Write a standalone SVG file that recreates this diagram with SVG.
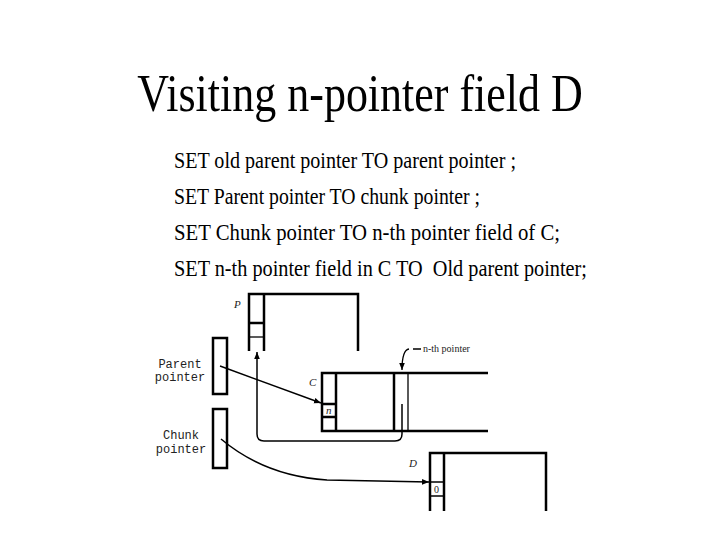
<svg xmlns="http://www.w3.org/2000/svg" width="720" height="540" viewBox="0 0 720 540">
<defs>
<style>
.title{font-family:"Liberation Serif",serif;font-size:44px;fill:#000}
.stmt{font-family:"Liberation Serif",serif;font-size:20.3px;fill:#000;white-space:pre}
.lbl{font-family:"Liberation Mono",monospace;font-size:12px;fill:#222}
.sm{font-family:"Liberation Serif",serif;font-size:10px;fill:#222}
.it{font-family:"Liberation Serif",serif;font-style:italic;font-size:11px;fill:#222}
.thick{fill:none;stroke:#000;stroke-width:2.5}
.thin{fill:none;stroke:#000;stroke-width:1.3}
.conn{fill:none;stroke:#000;stroke-width:1.5}
</style>
<marker id="ah" viewBox="0 0 10 10" refX="10" refY="5" markerWidth="7" markerHeight="7" orient="auto" markerUnits="userSpaceOnUse">
<path d="M0,1 L10,5 L0,9 Z" fill="#000"/>
</marker>
</defs>
<rect width="720" height="540" fill="#fff"/>
<text class="title" transform="translate(360,111) scale(1,1.22)" x="0" y="0" text-anchor="middle">Visiting n-pointer field D</text>
<g id="statements">
<text class="stmt" transform="translate(174,168) scale(1,1.15)" textLength="342" lengthAdjust="spacingAndGlyphs">SET old parent pointer TO parent pointer ;</text>
<text class="stmt" transform="translate(174,204) scale(1,1.15)" textLength="306" lengthAdjust="spacingAndGlyphs">SET Parent pointer TO chunk pointer ;</text>
<text class="stmt" transform="translate(174,240) scale(1,1.15)" textLength="386" lengthAdjust="spacingAndGlyphs">SET Chunk pointer TO n-th pointer field of C;</text>
<text class="stmt" transform="translate(174,276) scale(1,1.15)" textLength="413" lengthAdjust="spacingAndGlyphs">SET n-th pointer field in C TO  Old parent pointer;</text>
</g>
<g id="P">
<path class="thick" d="M249,351 V294 H358 V351"/>
<path class="thick" d="M264,294 V351"/>
<path class="thick" d="M249,323 H264"/>
<path class="thin" d="M249,337 H264"/>
<text class="it" x="234" y="308">P</text>
</g>
<g id="parent-pointer">
<rect class="thick" x="213" y="338" width="14" height="56"/>
<text class="lbl" x="180" y="368" text-anchor="middle">Parent</text>
<text class="lbl" x="180" y="381" text-anchor="middle">pointer</text>
</g>
<g id="chunk-pointer">
<rect class="thick" x="213" y="409" width="14" height="59"/>
<text class="lbl" x="181" y="439" text-anchor="middle">Chunk</text>
<text class="lbl" x="181" y="453" text-anchor="middle">pointer</text>
</g>
<g id="C">
<path class="thick" d="M488,373 H322 V431 H488"/>
<path class="thick" d="M336,373 V431"/>
<path class="thick" d="M322,404 H336 M322,417 H336"/>
<path class="thick" d="M394,373 V431"/>
<path class="thin" d="M408,373 V431"/>
<text class="it" x="309" y="386">C</text>
<text class="it" x="326" y="414">n</text>
<text class="sm" x="423" y="352">n-th pointer</text>
</g>
<g id="D">
<path class="thick" d="M430,511 V453 H546 V511"/>
<path class="thick" d="M444,453 V511"/>
<path class="thin" d="M430,482 H444 M430,496 H444"/>
<text class="it" x="409" y="467">D</text>
<text class="sm" x="434" y="493">0</text>
</g>
<g id="connectors">
<path class="conn" d="M220,366 L321,403" marker-end="url(#ah)"/>
<path class="conn" d="M402,404 V434 Q402,441 395,441 H264 Q257,441 257,434 V352" marker-end="url(#ah)"/>
<path class="conn" d="M221,439 Q265,476 327,480 L429,482" marker-end="url(#ah)"/>
<path class="thin" d="M413,349 H421 M409,349 Q402,350 402,370" marker-end="url(#ah)"/>
</g>
</svg>
